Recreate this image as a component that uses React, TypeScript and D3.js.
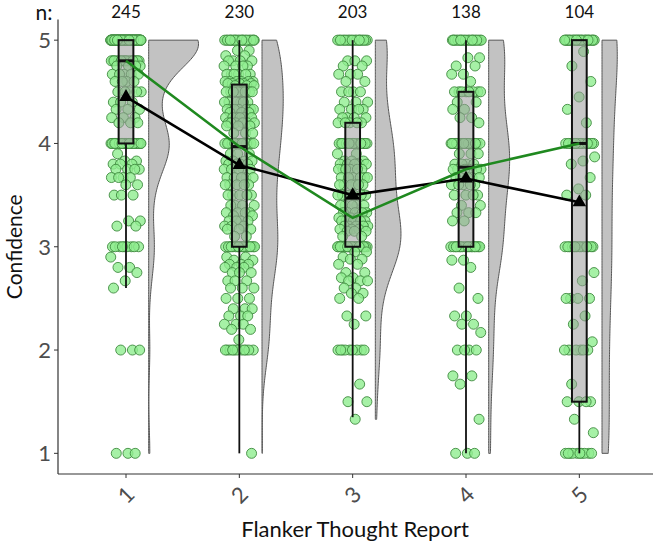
import React, { useEffect, useRef } from 'react';
import * as d3 from 'd3';

// confidence ratings per thought-report category, as [value, count]
const categories = ['1', '2', '3', '4', '5'];
const sampleSizes = [245, 230, 203, 138, 104];

const group1: [number, number][] = [
  [5, 113], [4.8, 18], [4.75, 4], [4.67, 5], [4.6, 4], [4.5, 5], [4.4, 3], [4.33, 3], [4.25, 3], [4.2, 3],
  [4, 40], [3.9, 1], [3.83, 2], [3.8, 3], [3.75, 4], [3.67, 4], [3.6, 2], [3.5, 3], [3.25, 2], [3.2, 2],
  [3, 9], [2.9, 1], [2.8, 2], [2.75, 1], [2.67, 1], [2.6, 1], [2, 3], [1, 3],
];
const group2: [number, number][] = [
  [5, 25], [4.9, 2], [4.85, 2], [4.8, 4], [4.75, 4], [4.67, 6], [4.6, 6], [4.58, 5], [4.56, 3],
  [4.5, 8], [4.4, 6], [4.33, 7], [4.3, 3], [4.25, 6], [4.2, 6], [4.17, 3], [4.1, 3], [4, 14],
  [3.9, 3], [3.83, 4], [3.8, 4], [3.75, 5], [3.67, 5], [3.6, 5], [3.5, 5], [3.4, 4], [3.33, 4], [3.3, 2],
  [3.25, 4], [3.2, 3], [3.17, 3], [3.1, 2],
  [3, 18], [2.9, 2], [2.87, 2], [2.83, 3], [2.8, 3], [2.75, 3], [2.67, 3], [2.6, 3], [2.5, 3], [2.4, 3],
  [2.33, 3], [2.25, 3], [2.2, 2], [2.1, 1],
  [2, 11], [1, 1],
];
const group3: [number, number][] = [
  [5, 22], [4.8, 3], [4.75, 2], [4.67, 3], [4.6, 2], [4.5, 4], [4.4, 3], [4.33, 4], [4.25, 4], [4.2, 5],
  [4, 18], [3.9, 2], [3.83, 3], [3.8, 5], [3.75, 6], [3.67, 6], [3.6, 6], [3.5, 7], [3.4, 5], [3.33, 6],
  [3.28, 3], [3.25, 5], [3.2, 5], [3.17, 3], [3.15, 3], [3.1, 2],
  [3, 30], [2.95, 2], [2.9, 1], [2.88, 2], [2.83, 2], [2.75, 2], [2.7, 2], [2.67, 3], [2.6, 2], [2.55, 2],
  [2.5, 2], [2.33, 2], [2.25, 1],
  [2, 9], [1.67, 1], [1.5, 2], [1.33, 1],
];
const group4: [number, number][] = [
  [5, 24], [4.83, 2], [4.75, 2], [4.67, 2], [4.6, 1], [4.5, 8], [4.4, 2], [4.33, 2], [4.25, 2], [4.2, 1],
  [4, 18], [3.9, 3], [3.8, 4], [3.75, 6], [3.67, 5], [3.6, 5], [3.5, 4], [3.4, 2], [3.33, 3], [3.25, 2],
  [3, 19], [2.87, 2], [2.8, 1], [2.6, 1], [2.5, 1], [2.33, 2], [2.25, 2], [2.17, 1],
  [2, 4], [1.75, 2], [1.67, 1], [1.33, 1], [1, 3],
];
const group5: [number, number][] = [
  [5, 31], [4.89, 1], [4.75, 1], [4.6, 1], [4.45, 1], [4.33, 1], [4.2, 1], [4, 14],
  [3.87, 1], [3.83, 1], [3.8, 1], [3.67, 1], [3.56, 1], [3.5, 2], [3, 14],
  [2.75, 1], [2.67, 1], [2.5, 4], [2.33, 1], [2.25, 1], [2.08, 1], [2, 6],
  [1.67, 1], [1.5, 4], [1.33, 1], [1.2, 1], [1, 10],
];
const groups = [group1, group2, group3, group4, group5];

// box summaries
const boxQ1 = [4, 3, 3, 3, 1.5];
const boxMedian = [4.8, 3.97, 3.47, 3.77, 4];
const boxQ3 = [5, 4.57, 4.2, 4.5, 5];
const whiskerLow = [2.6, 1, 1.35, 1, 1];
const whiskerHigh = [5, 5, 5, 5, 5];
const means = [4.45, 3.79, 3.5, 3.66, 3.43];
const medianTrend = [4.8, 3.97, 3.28, 3.75, 4];

const yTicks = [1, 2, 3, 4, 5];

const kde = (values: number[]) => {
  const sorted = values.slice().sort((a, b) => a - b);
  const n = sorted.length;
  const sd = d3.deviation(sorted) || 1;
  const iqr = (d3.quantile(sorted, 0.75) as number) - (d3.quantile(sorted, 0.25) as number);
  const bw = 0.9 * Math.min(sd, iqr > 0 ? iqr / 1.34 : sd) * Math.pow(n, -0.2);
  const lo = sorted[0];
  const hi = sorted[n - 1];
  const k = 1 / (n * bw * Math.sqrt(2 * Math.PI));
  return d3.range(256).map((i) => {
    const g = lo + ((hi - lo) * i) / 255;
    return [g, k * d3.sum(sorted, (v) => Math.exp(-0.5 * ((g - v) / bw) ** 2))] as [number, number];
  });
};

const App = () => {
  const ref = useRef<SVGSVGElement>(null);

  useEffect(() => {
    const svg = d3.select(ref.current);
    svg.selectAll('*').remove();

    const x = d3.scaleLinear().domain([0.4, 5.65]).range([58, 653]);
    const y = d3.scaleLinear().domain([0.8, 5.2]).range([474, 19.5]);
    const font = 'Lato, "Open Sans", sans-serif';

    const expanded = groups.map((g) => g.flatMap(([v, c]) => d3.range(c).map(() => v)));
    const densities = expanded.map(kde);
    const maxDens = d3.max(densities, (d) => d3.max(d, (p) => p[1])) as number;
    const vWidth = d3.scaleLinear().domain([0, maxDens]).range([0, 0.44]);

    // half violins, nudged right of each category
    densities.forEach((dens, i) => {
      const left = i + 1 + 0.2;
      const area = d3.area<[number, number]>()
        .y((d) => y(d[0]))
        .x0(x(left))
        .x1((d) => x(left + vWidth(d[1])))
        .curve(d3.curveBasis);
      svg.append('path')
        .attr('d', area(dens))
        .attr('fill', '#c2c2c2')
        .attr('stroke', '#555')
        .attr('stroke-width', 1);
    });

    // jittered raw points
    expanded.forEach((vals, i) => {
      svg.append('g').selectAll('circle').data(vals).enter()
        .append('circle')
        .attr('cx', (v, j) => x(i + 1 + (((j * 0.618034 + i * 0.37) % 1) - 0.5) * 0.27))
        .attr('cy', (v) => y(v))
        .attr('r', 5)
        .attr('fill', '#90ee90')
        .attr('fill-opacity', 0.8)
        .attr('stroke', '#3f8a3f')
        .attr('stroke-width', 0.9);
    });

    // boxplots
    const boxW = 0.13;
    categories.forEach((c, i) => {
      const cx = x(i + 1);
      const g = svg.append('g');
      g.append('line').attr('x1', cx).attr('x2', cx).attr('y1', y(whiskerLow[i])).attr('y2', y(boxQ1[i]))
        .attr('stroke', '#111').attr('stroke-width', 1.8);
      g.append('line').attr('x1', cx).attr('x2', cx).attr('y1', y(boxQ3[i])).attr('y2', y(whiskerHigh[i]))
        .attr('stroke', '#111').attr('stroke-width', 1.8);
      g.append('rect')
        .attr('x', x(i + 1 - boxW / 2)).attr('width', x(i + 1 + boxW / 2) - x(i + 1 - boxW / 2))
        .attr('y', y(boxQ3[i])).attr('height', y(boxQ1[i]) - y(boxQ3[i]))
        .attr('fill', '#9a9a9a').attr('fill-opacity', 0.55)
        .attr('stroke', '#111').attr('stroke-width', 2);
      g.append('line')
        .attr('x1', x(i + 1 - boxW / 2)).attr('x2', x(i + 1 + boxW / 2))
        .attr('y1', y(boxMedian[i])).attr('y2', y(boxMedian[i]))
        .attr('stroke', '#111').attr('stroke-width', 3);
    });

    // mean (black) and median (green) trend lines
    const line = d3.line<number>().x((d, i) => x(i + 1)).y((d) => y(d));
    svg.append('path').attr('d', line(means)).attr('fill', 'none')
      .attr('stroke', '#000').attr('stroke-width', 2.6);
    svg.append('path').attr('d', line(medianTrend)).attr('fill', 'none')
      .attr('stroke', '#1f891f').attr('stroke-width', 2.6);
    svg.append('g').selectAll('path').data(means).enter()
      .append('path')
      .attr('d', d3.symbol().type(d3.symbolTriangle).size(80)())
      .attr('transform', (d, i) => `translate(${x(i + 1)},${y(d)})`)
      .attr('fill', '#000');

    // axes
    const axisColor = '#333';
    svg.append('line').attr('x1', x(0.4)).attr('x2', x(0.4)).attr('y1', y(5.2)).attr('y2', y(0.8))
      .attr('stroke', axisColor).attr('stroke-width', 1.2);
    svg.append('line').attr('x1', x(0.4)).attr('x2', x(5.65)).attr('y1', y(0.8)).attr('y2', y(0.8))
      .attr('stroke', axisColor).attr('stroke-width', 1.2);

    yTicks.forEach((t) => {
      svg.append('line').attr('x1', x(0.4) - 4).attr('x2', x(0.4)).attr('y1', y(t)).attr('y2', y(t))
        .attr('stroke', axisColor);
      svg.append('text').attr('x', x(0.4) - 7).attr('y', y(t)).attr('dy', '0.36em')
        .attr('text-anchor', 'end').attr('font-family', font).attr('font-size', 22)
        .attr('fill', '#4d4d4d').text(String(t));
    });

    categories.forEach((c, i) => {
      const cx = x(i + 1);
      svg.append('line').attr('x1', cx).attr('x2', cx).attr('y1', y(0.8)).attr('y2', y(0.8) + 4)
        .attr('stroke', axisColor);
      svg.append('text')
        .attr('transform', `translate(${cx},${495}) rotate(-45)`)
        .attr('text-anchor', 'middle').attr('dy', '0.36em')
        .attr('font-family', font).attr('font-size', 22).attr('fill', '#4d4d4d')
        .text(c);
      svg.append('text').attr('x', cx).attr('y', 18)
        .attr('text-anchor', 'middle').attr('font-family', font).attr('font-size', 17)
        .attr('fill', '#111').text(String(sampleSizes[i]));
    });

    svg.append('text').attr('x', 44).attr('y', 20).attr('text-anchor', 'middle')
      .attr('font-family', font).attr('font-size', 21).attr('fill', '#111').text('n:');

    svg.append('text')
      .attr('transform', `translate(22,${y(3)}) rotate(-90)`)
      .attr('text-anchor', 'middle').attr('font-family', font).attr('font-size', 21)
      .attr('fill', '#111').text('Confidence');
    svg.append('text').attr('x', 355).attr('y', 537).attr('text-anchor', 'middle')
      .attr('font-family', font).attr('font-size', 22).attr('fill', '#111').text('Flanker Thought Report');
  }, []);

  return (
    <svg ref={ref} width={657} height={549}
      style={{ position: 'absolute', left: 0, top: 0, background: '#fff' }} />
  );
};

export default App;
